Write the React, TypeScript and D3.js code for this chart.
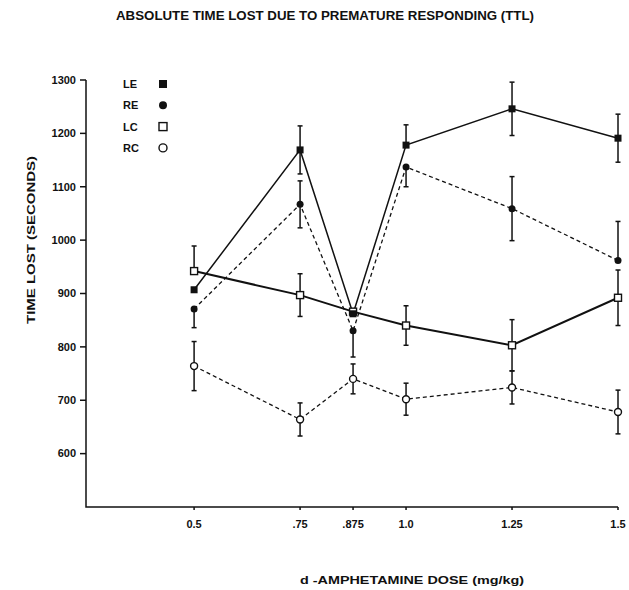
import * as d3 from "d3";

const DOSES = [0.5, 0.75, 0.875, 1.0, 1.25, 1.5];
const DOSE_LABELS = ["0.5", ".75", ".875", "1.0", "1.25", "1.5"];
const Y_TICKS = [600, 700, 800, 900, 1000, 1100, 1200, 1300];

// means and visible error bar lengths (up / down), 0 = not drawn
const LE = [907, 1169, 862, 1178, 1246, 1191];
const LE_HI = [0, 45, 0, 38, 50, 45];
const LE_LO = [0, 45, 0, 0, 50, 45];
const RE = [871, 1067, 830, 1137, 1059, 962];
const RE_HI = [0, 44, 0, 0, 60, 73];
const RE_LO = [35, 44, 49, 37, 60, 0];
const LC = [942, 897, 866, 840, 803, 892];
const LC_HI = [47, 40, 0, 37, 48, 52];
const LC_LO = [0, 40, 0, 37, 48, 52];
const RC = [764, 664, 740, 702, 724, 678];
const RC_HI = [46, 31, 28, 30, 31, 41];
const RC_LO = [46, 31, 28, 30, 31, 41];

type Series = {
  name: string;
  values: number[];
  hi: number[];
  lo: number[];
  marker: "fsq" | "fci" | "osq" | "oci";
  dash: string | null;
  width: number;
};

const SERIES: Series[] = [
  { name: "LC", values: LC, hi: LC_HI, lo: LC_LO, marker: "osq", dash: null, width: 2 },
  { name: "RC", values: RC, hi: RC_HI, lo: RC_LO, marker: "oci", dash: "4,3", width: 1.3 },
  { name: "RE", values: RE, hi: RE_HI, lo: RE_LO, marker: "fci", dash: "4,3", width: 1.3 },
  { name: "LE", values: LE, hi: LE_HI, lo: LE_LO, marker: "fsq", dash: null, width: 1.5 },
];

const LEGEND = ["LE", "RE", "LC", "RC"];

const INK = "#111";
const FONT = "'Liberation Sans', Arial, sans-serif";

const x = d3.scaleLinear().domain([0.245, 1.5]).range([86, 618]);
const y = d3.scaleLinear().domain([500, 1300]).range([507, 80]);

const Marker = ({ kind, cx, cy, s = 7 }: { kind: string; cx: number; cy: number; s?: number }) => {
  if (kind === "fsq")
    return <rect x={cx - s / 2} y={cy - s / 2} width={s} height={s} fill={INK} />;
  if (kind === "osq")
    return (
      <rect
        x={cx - s / 2}
        y={cy - s / 2}
        width={s}
        height={s}
        fill="#fff"
        stroke={INK}
        strokeWidth={1.4}
      />
    );
  if (kind === "fci") return <circle cx={cx} cy={cy} r={s / 2} fill={INK} />;
  return <circle cx={cx} cy={cy} r={s / 2} fill="#fff" stroke={INK} strokeWidth={1.4} />;
};

export default function App() {
  const line = d3
    .line<number>()
    .x((_, i) => x(DOSES[i]))
    .y((d) => y(d));

  return (
    <div style={{ position: "absolute", left: 0, top: 0 }}>
      <svg width={629} height={590} style={{ display: "block", background: "#fff" }}>
        <g fontFamily={FONT} fontWeight="bold" fill={INK}>
          <text x={325} y={20} textAnchor="middle" fontSize={12} textLength={418} lengthAdjust="spacingAndGlyphs">
            ABSOLUTE TIME LOST DUE TO PREMATURE RESPONDING (TTL)
          </text>
          <text
            transform="translate(35,240) rotate(-90)"
            textAnchor="middle"
            fontSize={11}
            textLength={168}
            lengthAdjust="spacingAndGlyphs"
          >
            TIME LOST (SECONDS)
          </text>
          <text x={412} y={584} textAnchor="middle" fontSize={11} textLength={224} lengthAdjust="spacingAndGlyphs">
            d -AMPHETAMINE DOSE (mg/kg)
          </text>
        </g>

        {/* axes */}
        <g stroke={INK} strokeWidth={1.5} fill="none">
          <path d={`M${x.range()[0]},${y(1300)} V${y(500)} H${x.range()[1]}`} />
          {Y_TICKS.map((t) => (
            <line key={t} x1={x.range()[0] - 6} x2={x.range()[0]} y1={y(t)} y2={y(t)} />
          ))}
          {DOSES.map((d) => (
            <line key={d} x1={x(d)} x2={x(d)} y1={y(500)} y2={y(500) + 3} />
          ))}
        </g>
        <g fontFamily={FONT} fontWeight="bold" fontSize={11} fill={INK}>
          {Y_TICKS.map((t) => (
            <text key={t} x={76} y={y(t)} dy="0.35em" textAnchor="end">
              {t}
            </text>
          ))}
          {DOSES.map((d, i) => (
            <text key={d} x={x(d)} y={528} textAnchor="middle">
              {DOSE_LABELS[i]}
            </text>
          ))}
        </g>

        {/* lines */}
        {SERIES.map((s) => (
          <path
            key={s.name}
            d={line(s.values) || ""}
            fill="none"
            stroke={INK}
            strokeWidth={s.width}
            strokeDasharray={s.dash || undefined}
          />
        ))}

        {/* error bars */}
        <g stroke={INK} strokeWidth={1.5}>
          {SERIES.map((s) =>
            s.values.map((v, i) => {
              const cx = x(DOSES[i]);
              const parts = [];
              if (s.hi[i] > 0) {
                const yt = y(v + s.hi[i]);
                parts.push(<line key="h" x1={cx} x2={cx} y1={y(v)} y2={yt} />);
                parts.push(<line key="hc" x1={cx - 2.5} x2={cx + 2.5} y1={yt} y2={yt} />);
              }
              if (s.lo[i] > 0) {
                const yb = y(v - s.lo[i]);
                parts.push(<line key="l" x1={cx} x2={cx} y1={y(v)} y2={yb} />);
                parts.push(<line key="lc" x1={cx - 2.5} x2={cx + 2.5} y1={yb} y2={yb} />);
              }
              return <g key={s.name + i}>{parts}</g>;
            })
          )}
        </g>

        {/* markers */}
        {SERIES.map((s) => (
          <g key={s.name}>
            {s.values.map((v, i) => (
              <Marker key={i} kind={s.marker} cx={x(DOSES[i])} cy={y(v)} />
            ))}
          </g>
        ))}

        {/* legend */}
        <g fontFamily={FONT} fontWeight="bold" fontSize={11} fill={INK}>
          {LEGEND.map((name, i) => {
            const s = SERIES.find((d) => d.name === name)!;
            const cy = 84 + i * 21.3;
            return (
              <g key={name}>
                <text x={123} y={cy} dy="0.36em">
                  {name}
                </text>
                <Marker kind={s.marker} cx={163} cy={cy} s={8} />
              </g>
            );
          })}
        </g>
      </svg>
    </div>
  );
}
